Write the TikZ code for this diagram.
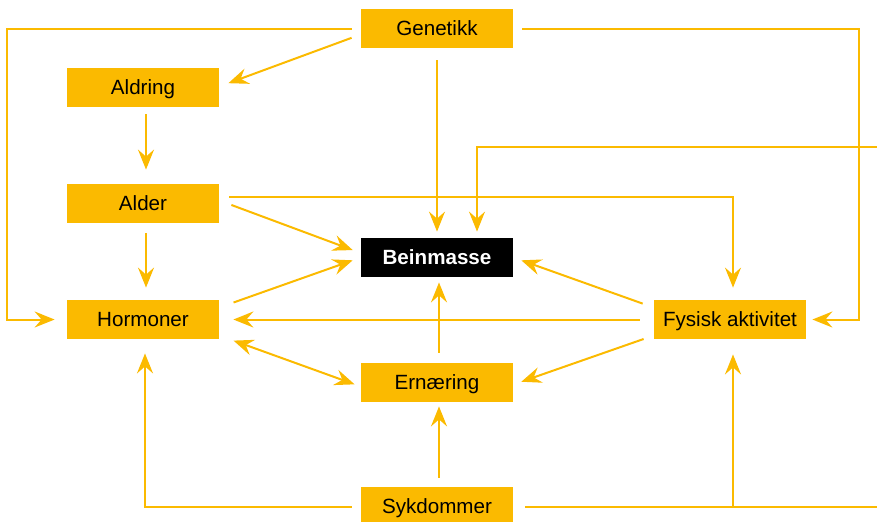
\documentclass[tikz,border=0pt]{standalone}
\usepackage{fontspec}
\setmainfont{Liberation Sans}
\usetikzlibrary{calc}
\usetikzlibrary{arrows.meta}
\definecolor{gul}{RGB}{251,186,0}

\begin{document}
\begin{tikzpicture}[x=0.5pt, y=-0.5pt,
    box/.style={rectangle, fill=gul, minimum width=76pt, minimum height=19.5pt,
        inner sep=0pt, text height=7.4pt, text depth=0pt, font=\fontsize{10.3}{12}\selectfont},
    ln/.style={draw=gul, line width=1pt},
    tip/.style={-{Stealth[length=10pt, width=8pt, inset=3.5pt]}},
    arr/.style={ln, tip}]

    \useasboundingbox (0,0) rectangle (877,521);
    \clip (0,0) rectangle (877,521);

    % Place the nodes
    \node[box] (gen)   at (437,28.5)  {Genetikk};
    \node[box] (ald)   at (143,87.5)  {Aldring};
    \node[box] (alder) at (143,203.5) {Alder};
    \node[box] (horm)  at (143,319.5) {Hormoner};
    \node[box, fill=black, text=white, font=\fontsize{10.3}{12}\selectfont\bfseries]
               (bein)  at (437,257.5) {Beinmasse};
    \node[box] (fys)   at (730,319.5) {Fysisk aktivitet};
    \node[box] (ern)   at (437,382.5) {Ernæring};
    \node[box] (syk)   at (437,506.5) {Sykdommer};

    % Free ends at the right border
    \coordinate (inn) at (877,147);
    \coordinate (ut)  at (877,506.5);
    \coordinate (gl)  at (7,28.5);
    \coordinate (gr)  at (859,28.5);

    % Draw the lines from Genetikk
    \draw[arr, shorten <=4.5pt, shorten >=6pt] (gen.west) -- (gl) |- (horm.west);
    \draw[arr, shorten <=4.8pt, shorten >=4.8pt] ([yshift=-3pt]gen.west) -- ([yshift=0.5pt]ald.east);
    \draw[arr, shorten <=6pt, shorten >=3pt] (gen.south) -- (bein.north);
    \draw[arr, shorten <=4.5pt, shorten >=3pt] (gen.east) -- (gr) |- (fys.east);
    \draw[arr, shorten >=3pt] (inn) -| ([xshift=20pt]bein.north);

    % Draw the lines from Aldring and Alder
    \draw[arr, shorten <=3.5pt, shorten >=7pt] ([xshift=1.5pt]ald.south) -- ([xshift=1.5pt]alder.north);
    \draw[arr, shorten <=6.4pt, shorten >=4.2pt] ([yshift=1.5pt]alder.east) -- ([yshift=2.25pt]bein.west);
    \draw[arr, shorten <=5pt, shorten >=6pt] ([yshift=3.25pt]alder.east) -| ([xshift=1.5pt]fys.north);
    \draw[arr, shorten <=5pt, shorten >=6pt] ([xshift=1.5pt]alder.south) -- ([xshift=1.5pt]horm.north);

    % Draw the lines to Beinmasse and Ernæring
    \draw[arr, shorten <=7.5pt, shorten >=4.2pt] ([yshift=6pt]horm.east) -- (bein.west);
    \draw[arr, shorten <=7pt, shorten >=7pt] (fys.west) -- (horm.east);
    \draw[arr, shorten <=5.8pt, shorten >=4.2pt] ([yshift=6pt]fys.west) -- (bein.east);
    \draw[arr, shorten <=5.3pt, shorten >=4.2pt] ([yshift=-8pt]fys.west) -- ([yshift=-1pt]ern.east);
    \draw[ln, {Stealth[length=10pt, width=8pt, inset=3.5pt]}-{Stealth[length=10pt, width=8pt, inset=3.5pt]},
        shorten <=7.5pt, shorten >=3.2pt] ([yshift=-8pt]horm.east) -- ([yshift=-2pt]ern.west);
    \draw[arr, shorten <=5pt, shorten >=2.5pt] ([xshift=1pt]ern.north) -- ([xshift=1pt]bein.south);

    % Draw the lines from Sykdommer
    \draw[arr, shorten <=4.5pt, shorten >=2pt] ([xshift=1pt]syk.north) -- ([xshift=1pt]ern.south);
    \draw[arr, shorten <=4.5pt, shorten >=7pt] (syk.west) -| ([xshift=1pt]horm.south);
    \draw[ln, shorten <=6pt] (syk.east) -- (ut);
    \draw[arr, shorten >=7.5pt] ([xshift=1.5pt]fys.south |- syk.east) -- ([xshift=1.5pt]fys.south);

\end{tikzpicture}
\end{document}
